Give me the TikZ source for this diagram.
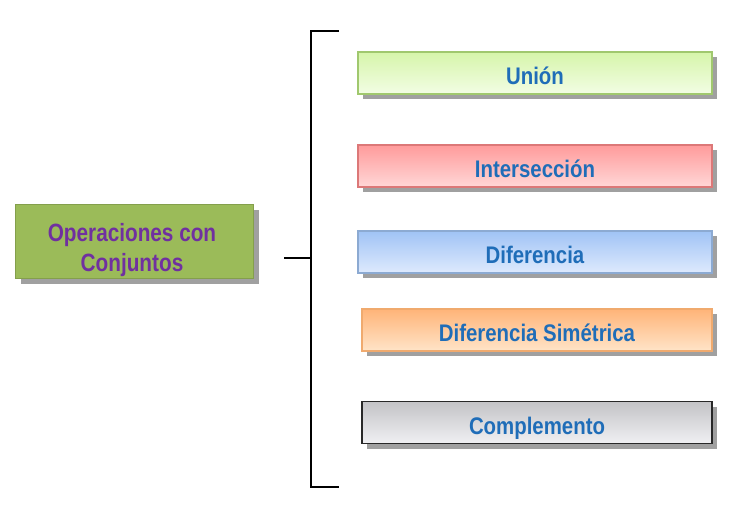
\documentclass[tikz,border=0pt]{standalone}
\usepackage{fontspec}
\setmainfont{Liberation Sans}
\usetikzlibrary{shadows}
\definecolor{mainfill}{HTML}{9BBB59}
\definecolor{maintext}{HTML}{7030A0}
\definecolor{optext}{HTML}{1F6DB8}
\definecolor{shadowgray}{HTML}{A0A0A0}
\definecolor{gtop}{RGB}{214,245,170}\definecolor{gbot}{RGB}{242,253,228}\definecolor{gdraw}{RGB}{160,200,110}
\definecolor{rtop}{RGB}{255,155,155}\definecolor{rbot}{RGB}{255,215,215}\definecolor{rdraw}{RGB}{220,120,120}
\definecolor{btop}{RGB}{160,195,245}\definecolor{bbot}{RGB}{222,234,253}\definecolor{bdraw}{RGB}{140,170,210}
\definecolor{otop}{RGB}{255,180,120}\definecolor{obot}{RGB}{255,228,200}\definecolor{odraw}{RGB}{240,170,110}
\definecolor{ktop}{RGB}{195,195,198}\definecolor{kbot}{RGB}{240,240,243}\definecolor{kdraw}{RGB}{40,40,40}
\newcommand{\optxt}[1]{\scalebox{0.85}[1]{#1}}
\newcommand{\maintxt}[1]{\scalebox{0.83}[1]{#1}}
\tikzset{
  opbox/.style={rectangle, minimum width=354pt, minimum height=42pt, inner sep=0pt,
    text height=23.4pt, text depth=0pt,
    line width=1.2pt, font=\fontsize{24}{28}\selectfont\bfseries, text=optext,
    drop shadow={shadow xshift=5pt, shadow yshift=-5pt, fill=shadowgray, opacity=1}},
  mainbox/.style={rectangle, minimum width=238pt, minimum height=74pt, inner sep=0pt,
    fill=mainfill, draw=mainfill!85!black, line width=0.8pt,
    drop shadow={shadow xshift=6pt, shadow yshift=-6pt, fill=shadowgray, opacity=1}},
  maintitle/.style={anchor=base, inner sep=0pt, font=\fontsize{25}{30}\selectfont\bfseries, text=maintext},
  bracketline/.style={line width=2.6pt, black}
}
\begin{document}
\begin{tikzpicture}[x=1pt,y=1pt]
\useasboundingbox (0,0) rectangle (744,-511);
\fill[white] (0,0) rectangle (744,-511);

\node[mainbox] (main) at (134,-241) {};
\node[maintitle] (mainA) at (132,-241) {\maintxt{Operaciones con}};
\node[maintitle] (mainB) at (132,-271) {\maintxt{Conjuntos}};

\node[opbox, minimum width=354pt, top color=gtop, bottom color=gbot, draw=gdraw] (union) at (535,-73) {\optxt{Unión}};
\node[opbox, minimum width=354pt, top color=rtop, bottom color=rbot, draw=rdraw] (inter) at (535,-166) {\optxt{Intersección}};
\node[opbox, minimum width=354pt, top color=btop, bottom color=bbot, draw=bdraw] (dif) at (535,-252) {\optxt{Diferencia}};
\node[opbox, minimum width=350pt, top color=otop, bottom color=obot, draw=odraw] (difsim) at (537,-330) {\optxt{Diferencia Simétrica}};
\node[opbox, minimum width=350pt, top color=ktop, bottom color=kbot, draw=kdraw] (comp) at (537,-422.5) {\optxt{Complemento}};

\coordinate (bl) at (284,-258);
\coordinate (bm) at (311,-258);
\coordinate (bt) at (311,-31);
\coordinate (bb) at (311,-487);
\coordinate (tt) at (339,-31);
\coordinate (tb) at (339,-487);
\draw[bracketline] (bl) -- (bm);
\draw[bracketline] (tt) -- (bt) -- (bb) -- (tb);
\end{tikzpicture}
\end{document}
